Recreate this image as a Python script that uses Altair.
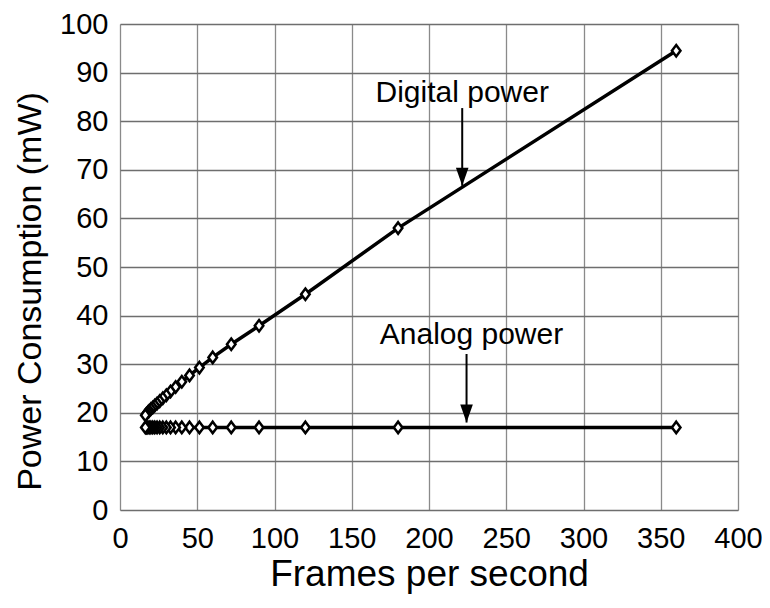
import altair as alt
import pandas as pd

# Data
fps = [360, 180, 120, 90, 72, 60, 51.4, 45, 40, 36, 32.7, 30, 27.7, 25.7,
       24, 22.5, 21.2, 20, 18.9, 18, 17.1, 16.4]
digital_mw = [94.5, 58.0, 44.4, 37.9, 34.1, 31.4, 29.3, 27.7, 26.4, 25.3, 24.4,
              23.6, 23.0, 22.4, 21.9, 21.5, 21.1, 20.8, 20.4, 20.1, 19.8, 19.5]
analog_mw = [17.0] * len(fps)

# Annotations
ann_labels = ["Digital power", "Analog power"]
ann_text_x = [221.5, 227.5]
ann_text_y = [84.0, 34.2]
arrow_x = [221.5, 224.3]
arrow_top = [82.7, 32.1]
arrow_tip = [66.7, 18.0]

FONT = "Liberation Sans"

rows = []
for f, d, a in zip(fps, digital_mw, analog_mw):
    rows.append({"fps": f, "mw": d, "series": "Digital"})
    rows.append({"fps": f, "mw": a, "series": "Analog"})
df = pd.DataFrame(rows)

ann = pd.DataFrame({"label": ann_labels, "tx": ann_text_x, "ty": ann_text_y,
                    "ax": arrow_x, "atop": arrow_top, "atip": arrow_tip})

x_scale = alt.Scale(domain=[0, 400], nice=False, zero=False)
y_scale = alt.Scale(domain=[0, 100], nice=False, zero=False)

x_axis = alt.Axis(values=list(range(0, 401, 50)), title="Frames per second",
                  ticks=False, domain=False, labelPadding=14,
                  labelFontSize=29, labelFont=FONT, labelColor="black",
                  titleFontSize=37, titleFont=FONT, titleFontWeight="normal",
                  titleColor="black", titleBaseline="alphabetic", titleY=75,
                  labelFlush=False,
                  grid=True, gridColor="#8a8a8a", gridWidth=1.3)
y_axis = alt.Axis(values=list(range(0, 101, 10)), title="Power Consumption (mW)",
                  ticks=False, domain=False, labelPadding=12,
                  labelFontSize=29, labelFont=FONT, labelColor="black",
                  titleFontSize=34, titleFont=FONT, titleFontWeight="normal",
                  titleColor="black", titleBaseline="alphabetic", titleAlign="center",
                  titleAngle=-90, titleX=-80, titleY=267, labelFlush=False,
                  grid=True, gridColor="#6e6e6e", gridWidth=1.3)

base = alt.Chart(df)

lines = base.mark_line(color="black", strokeWidth=3.5).encode(
    x=alt.X("fps:Q", scale=x_scale, axis=x_axis),
    y=alt.Y("mw:Q", scale=y_scale, axis=y_axis),
    detail="series:N",
    order="fps:Q",
)

diamond = "M0,-1L0.75,0L0,1L-0.75,0Z"
points = base.mark_point(shape=diamond, size=130, filled=True, fill="white",
                         stroke="black", strokeWidth=2.5, opacity=1).encode(
    x=alt.X("fps:Q", scale=x_scale),
    y=alt.Y("mw:Q", scale=y_scale),
)

annb = alt.Chart(ann)
texts = annb.mark_text(font=FONT, fontSize=30, color="black", align="center",
                       baseline="alphabetic").encode(
    x=alt.X("tx:Q", scale=x_scale), y=alt.Y("ty:Q", scale=y_scale), text="label:N")

shafts = annb.mark_rule(color="black", strokeWidth=2).encode(
    x=alt.X("ax:Q", scale=x_scale), y=alt.Y("atop:Q", scale=y_scale),
    y2="atip:Q")

head = "M-0.7,-1L0.7,-1L0,1Z"
heads = annb.mark_point(shape=head, size=324, filled=True, color="black",
                        opacity=1, yOffset=-9).encode(
    x=alt.X("ax:Q", scale=x_scale), y=alt.Y("atip:Q", scale=y_scale))

chart = alt.layer(lines, points, shafts, heads, texts).properties(
    width=618, height=486,
    padding={"left": 112, "top": 16, "right": 24, "bottom": 90},
    autosize=alt.AutoSizeParams(type="none"),
).configure_view(stroke="#8a8a8a", strokeWidth=2).configure(background="white")

chart.save("out.html", embed_options={"renderer": "svg", "actions": False})
